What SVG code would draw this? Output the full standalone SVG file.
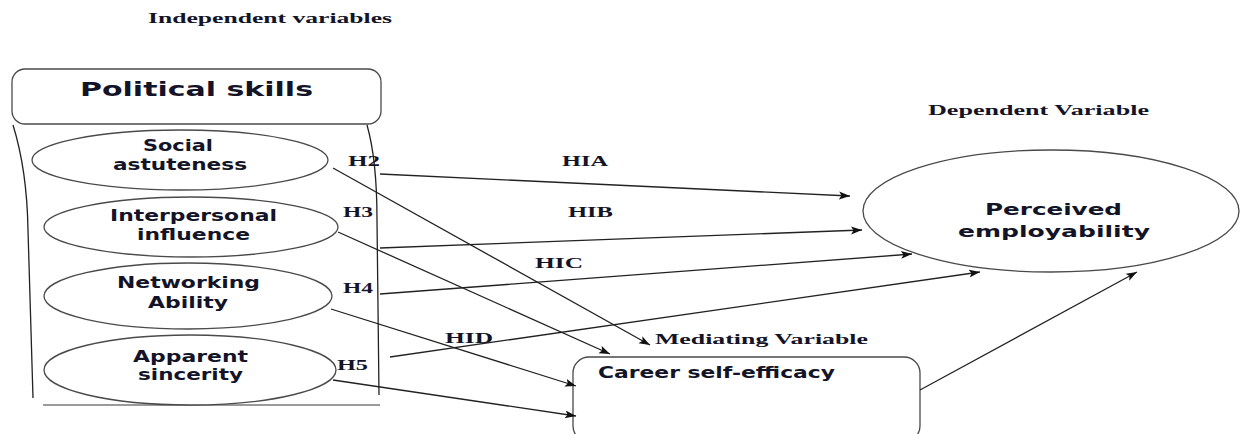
<svg xmlns="http://www.w3.org/2000/svg" width="1241" height="434" viewBox="0 0 1241 434">
<style>
.serif{font-family:"Liberation Serif","Times New Roman",serif;font-weight:bold;fill:#141428}
.sans{font-family:"DejaVu Sans","Liberation Sans",sans-serif;font-weight:bold;fill:#141428}
.shape{fill:#fff;stroke:#4a4a4a;stroke-width:1.3}
.conn{stroke:#222;stroke-width:1.3;fill:none;marker-end:url(#arr)}
.plain{stroke:#222;stroke-width:1.3;fill:none}
</style>
<defs>
<marker id="arr" markerUnits="userSpaceOnUse" markerWidth="12" markerHeight="10" refX="11" refY="4" orient="auto">
<path d="M0,0 L11,4 L0,8 L2.5,4 Z" fill="#111"/>
</marker>
</defs>
<rect width="1241" height="434" fill="#fff"/>
<text class="serif" x="148" y="23" font-size="15" textLength="244" lengthAdjust="spacingAndGlyphs">Independent variables</text>
<text class="serif" x="928" y="115" font-size="15" textLength="221" lengthAdjust="spacingAndGlyphs">Dependent Variable</text>
<text class="serif" x="655" y="344" font-size="15" textLength="213" lengthAdjust="spacingAndGlyphs">Mediating Variable</text>

<g id="political-skills">
<rect class="shape" x="12" y="69" width="369" height="55" rx="13"/>
<text class="sans" x="80" y="96" font-size="19.5" textLength="233" lengthAdjust="spacingAndGlyphs">Political skills</text>
<path class="plain" d="M13,125 Q27,170 28,230 L33,398"/>
<path class="plain" d="M367,125 Q377,160 377,220 L379,395"/>
<line x1="43" y1="405" x2="380" y2="405" stroke="#9a9a9a" stroke-width="2"/>
</g>

<g id="social-astuteness">
<ellipse class="shape" cx="180" cy="160" rx="148" ry="30"/>
<text class="sans" x="143" y="151" font-size="15" textLength="70" lengthAdjust="spacingAndGlyphs">Social</text>
<text class="sans" x="113" y="170" font-size="15" textLength="134" lengthAdjust="spacingAndGlyphs">astuteness</text>
</g>
<g id="interpersonal-influence">
<ellipse class="shape" cx="191" cy="227" rx="147" ry="30"/>
<text class="sans" x="110" y="221" font-size="15" textLength="167" lengthAdjust="spacingAndGlyphs">Interpersonal</text>
<text class="sans" x="137" y="240" font-size="15" textLength="113" lengthAdjust="spacingAndGlyphs">influence</text>
</g>
<g id="networking-ability">
<ellipse class="shape" cx="188" cy="296" rx="144" ry="33"/>
<text class="sans" x="117" y="288" font-size="15" textLength="143" lengthAdjust="spacingAndGlyphs">Networking</text>
<text class="sans" x="148" y="308" font-size="15" textLength="80" lengthAdjust="spacingAndGlyphs">Ability</text>
</g>
<g id="apparent-sincerity">
<ellipse class="shape" cx="190" cy="370" rx="146" ry="35"/>
<text class="sans" x="133" y="362" font-size="15" textLength="115" lengthAdjust="spacingAndGlyphs">Apparent</text>
<text class="sans" x="138" y="380" font-size="15" textLength="105" lengthAdjust="spacingAndGlyphs">sincerity</text>
</g>

<g id="perceived-employability">
<ellipse class="shape" cx="1051" cy="211" rx="188" ry="61"/>
<text class="sans" x="985" y="215" font-size="15" textLength="137" lengthAdjust="spacingAndGlyphs">Perceived</text>
<text class="sans" x="958" y="237" font-size="15" textLength="192" lengthAdjust="spacingAndGlyphs">employability</text>
</g>

<g id="career-self-efficacy">
<rect class="shape" x="573" y="357" width="347" height="85" rx="16" stroke="#666" stroke-width="1.6"/>
<text class="sans" x="598" y="378" font-size="15" textLength="237" lengthAdjust="spacingAndGlyphs">Career self-efficacy</text>
</g>

<g id="connectors">
<line class="conn" x1="380" y1="174" x2="850" y2="196"/>
<line class="conn" x1="380" y1="248" x2="862" y2="230"/>
<line class="conn" x1="380" y1="294" x2="912" y2="254"/>
<line class="conn" x1="390" y1="357" x2="980" y2="272"/>
<line class="conn" x1="333" y1="168" x2="650" y2="345"/>
<line class="conn" x1="338" y1="232" x2="610" y2="354"/>
<line class="conn" x1="331" y1="309" x2="576" y2="386"/>
<line class="conn" x1="333" y1="380" x2="576" y2="416"/>
<line class="conn" x1="920" y1="390" x2="1137" y2="272"/>
</g>

<g id="labels">
<text class="serif" x="348" y="166" font-size="14" textLength="32" lengthAdjust="spacingAndGlyphs">H2</text>
<text class="serif" x="343" y="217" font-size="14" textLength="30" lengthAdjust="spacingAndGlyphs">H3</text>
<text class="serif" x="343" y="293" font-size="14" textLength="30" lengthAdjust="spacingAndGlyphs">H4</text>
<text class="serif" x="337" y="370" font-size="14" textLength="31" lengthAdjust="spacingAndGlyphs">H5</text>
<text class="serif" x="562" y="166" font-size="14" textLength="46" lengthAdjust="spacingAndGlyphs">HIA</text>
<text class="serif" x="568" y="217" font-size="14" textLength="45" lengthAdjust="spacingAndGlyphs">HIB</text>
<text class="serif" x="535" y="268" font-size="14" textLength="48" lengthAdjust="spacingAndGlyphs">HIC</text>
<text class="serif" x="445" y="343" font-size="14" textLength="48" lengthAdjust="spacingAndGlyphs">HID</text>
</g>
</svg>
